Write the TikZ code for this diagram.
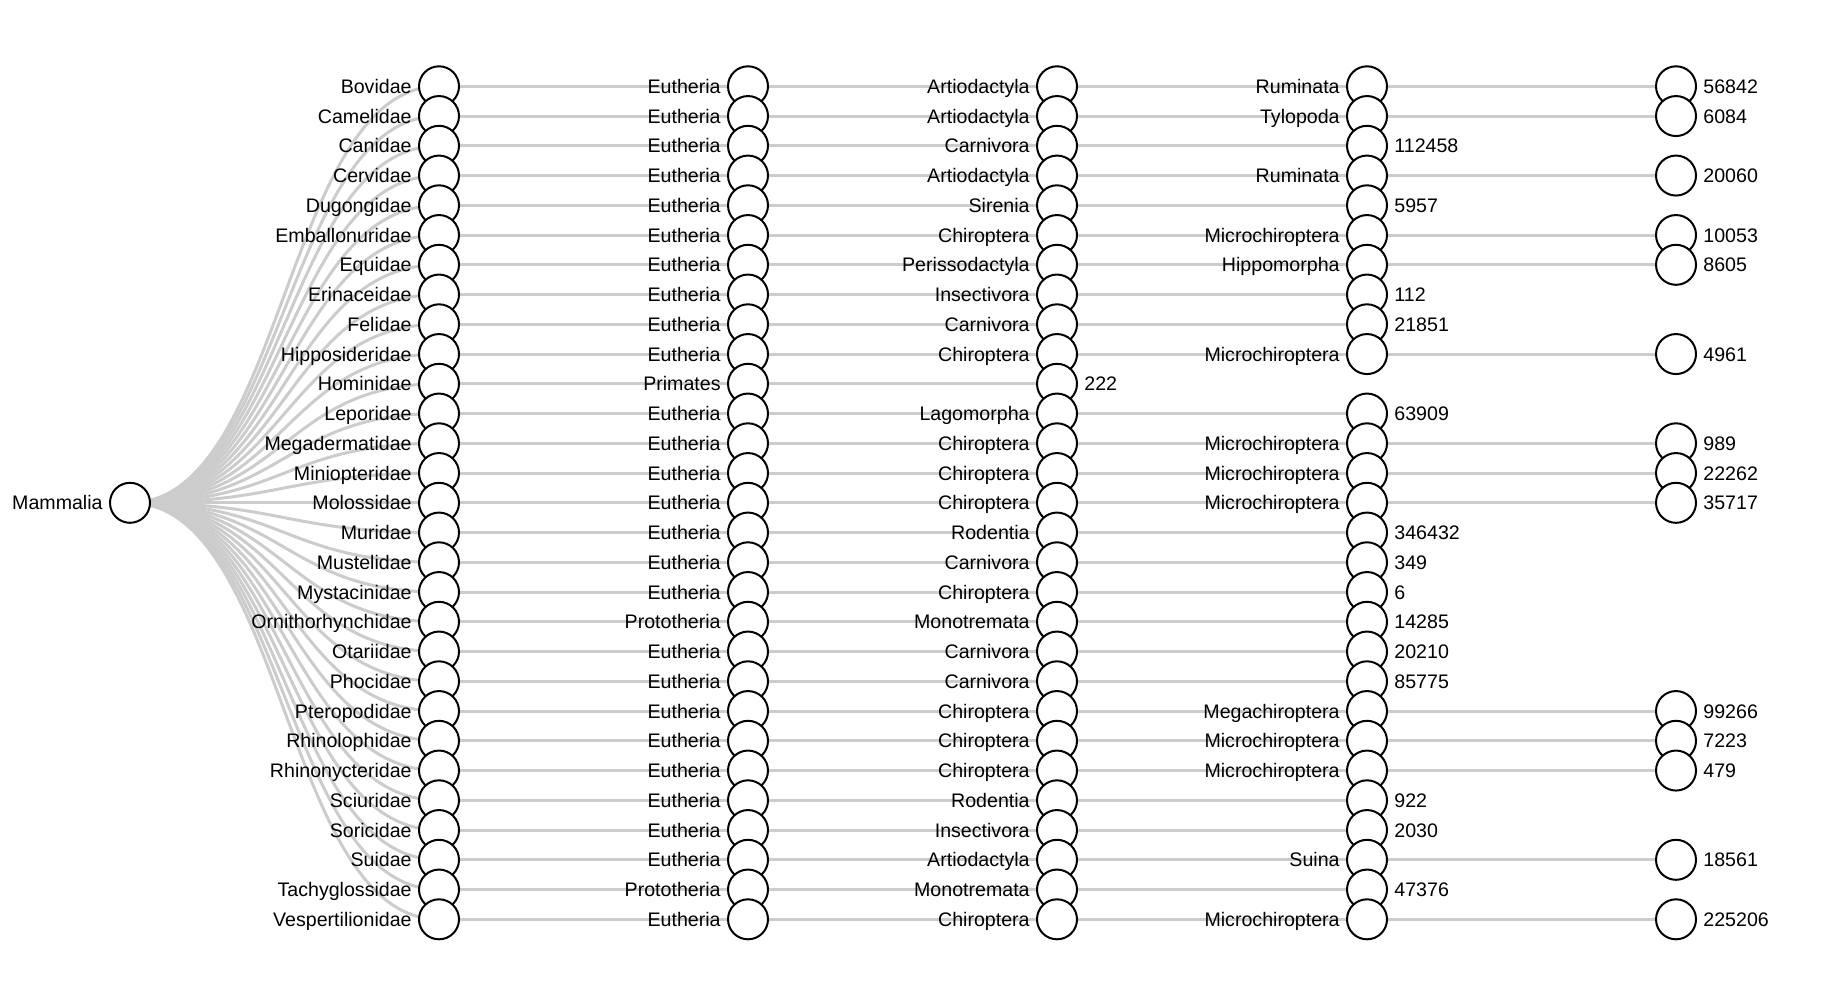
\documentclass[tikz,border=0pt]{standalone}
\usepackage{fontspec}
\setmainfont{Liberation Sans}
\usetikzlibrary{backgrounds}

\tikzset{
  dot/.style={circle,draw=black,fill=white,line width=1pt,minimum size=20pt,inner sep=0pt},
  link/.style={draw=gray!40,line width=1.5pt},
  every label/.style={text height=7pt,text depth=0pt,inner sep=3pt},
}

\begin{document}
\begin{tikzpicture}[x=0.5pt,y=-14.875pt]
\fontsize{9.8}{11}\selectfont
\useasboundingbox (0,-2.901) rectangle (1824,30.713);

\node[dot,label=left:Mammalia] (root) at (130,14) {};

% families
\node[dot,label=left:Bovidae] (f0) at (439,0) {};
\node[dot,label=left:Camelidae] (f1) at (439,1) {};
\node[dot,label=left:Canidae] (f2) at (439,2) {};
\node[dot,label=left:Cervidae] (f3) at (439,3) {};
\node[dot,label=left:Dugongidae] (f4) at (439,4) {};
\node[dot,label=left:Emballonuridae] (f5) at (439,5) {};
\node[dot,label=left:Equidae] (f6) at (439,6) {};
\node[dot,label=left:Erinaceidae] (f7) at (439,7) {};
\node[dot,label=left:Felidae] (f8) at (439,8) {};
\node[dot,label=left:Hipposideridae] (f9) at (439,9) {};
\node[dot,label=left:Hominidae] (f10) at (439,10) {};
\node[dot,label=left:Leporidae] (f11) at (439,11) {};
\node[dot,label=left:Megadermatidae] (f12) at (439,12) {};
\node[dot,label=left:Miniopteridae] (f13) at (439,13) {};
\node[dot,label=left:Molossidae] (f14) at (439,14) {};
\node[dot,label=left:Muridae] (f15) at (439,15) {};
\node[dot,label=left:Mustelidae] (f16) at (439,16) {};
\node[dot,label=left:Mystacinidae] (f17) at (439,17) {};
\node[dot,label=left:Ornithorhynchidae] (f18) at (439,18) {};
\node[dot,label=left:Otariidae] (f19) at (439,19) {};
\node[dot,label=left:Phocidae] (f20) at (439,20) {};
\node[dot,label=left:Pteropodidae] (f21) at (439,21) {};
\node[dot,label=left:Rhinolophidae] (f22) at (439,22) {};
\node[dot,label=left:Rhinonycteridae] (f23) at (439,23) {};
\node[dot,label=left:Sciuridae] (f24) at (439,24) {};
\node[dot,label=left:Soricidae] (f25) at (439,25) {};
\node[dot,label=left:Suidae] (f26) at (439,26) {};
\node[dot,label=left:Tachyglossidae] (f27) at (439,27) {};
\node[dot,label=left:Vespertilionidae] (f28) at (439,28) {};

% subclasses
\node[dot,label=left:Eutheria] (s0) at (748,0) {};
\node[dot,label=left:Eutheria] (s1) at (748,1) {};
\node[dot,label=left:Eutheria] (s2) at (748,2) {};
\node[dot,label=left:Eutheria] (s3) at (748,3) {};
\node[dot,label=left:Eutheria] (s4) at (748,4) {};
\node[dot,label=left:Eutheria] (s5) at (748,5) {};
\node[dot,label=left:Eutheria] (s6) at (748,6) {};
\node[dot,label=left:Eutheria] (s7) at (748,7) {};
\node[dot,label=left:Eutheria] (s8) at (748,8) {};
\node[dot,label=left:Eutheria] (s9) at (748,9) {};
\node[dot,label=left:Primates] (s10) at (748,10) {};
\node[dot,label=left:Eutheria] (s11) at (748,11) {};
\node[dot,label=left:Eutheria] (s12) at (748,12) {};
\node[dot,label=left:Eutheria] (s13) at (748,13) {};
\node[dot,label=left:Eutheria] (s14) at (748,14) {};
\node[dot,label=left:Eutheria] (s15) at (748,15) {};
\node[dot,label=left:Eutheria] (s16) at (748,16) {};
\node[dot,label=left:Eutheria] (s17) at (748,17) {};
\node[dot,label=left:Prototheria] (s18) at (748,18) {};
\node[dot,label=left:Eutheria] (s19) at (748,19) {};
\node[dot,label=left:Eutheria] (s20) at (748,20) {};
\node[dot,label=left:Eutheria] (s21) at (748,21) {};
\node[dot,label=left:Eutheria] (s22) at (748,22) {};
\node[dot,label=left:Eutheria] (s23) at (748,23) {};
\node[dot,label=left:Eutheria] (s24) at (748,24) {};
\node[dot,label=left:Eutheria] (s25) at (748,25) {};
\node[dot,label=left:Eutheria] (s26) at (748,26) {};
\node[dot,label=left:Prototheria] (s27) at (748,27) {};
\node[dot,label=left:Eutheria] (s28) at (748,28) {};

% orders
\node[dot,label=left:Artiodactyla] (o0) at (1057,0) {};
\node[dot,label=left:Artiodactyla] (o1) at (1057,1) {};
\node[dot,label=left:Carnivora] (o2) at (1057,2) {};
\node[dot,label=left:Artiodactyla] (o3) at (1057,3) {};
\node[dot,label=left:Sirenia] (o4) at (1057,4) {};
\node[dot,label=left:Chiroptera] (o5) at (1057,5) {};
\node[dot,label=left:Perissodactyla] (o6) at (1057,6) {};
\node[dot,label=left:Insectivora] (o7) at (1057,7) {};
\node[dot,label=left:Carnivora] (o8) at (1057,8) {};
\node[dot,label=left:Chiroptera] (o9) at (1057,9) {};
\node[dot,label=right:222] (o10) at (1057,10) {};
\node[dot,label=left:Lagomorpha] (o11) at (1057,11) {};
\node[dot,label=left:Chiroptera] (o12) at (1057,12) {};
\node[dot,label=left:Chiroptera] (o13) at (1057,13) {};
\node[dot,label=left:Chiroptera] (o14) at (1057,14) {};
\node[dot,label=left:Rodentia] (o15) at (1057,15) {};
\node[dot,label=left:Carnivora] (o16) at (1057,16) {};
\node[dot,label=left:Chiroptera] (o17) at (1057,17) {};
\node[dot,label=left:Monotremata] (o18) at (1057,18) {};
\node[dot,label=left:Carnivora] (o19) at (1057,19) {};
\node[dot,label=left:Carnivora] (o20) at (1057,20) {};
\node[dot,label=left:Chiroptera] (o21) at (1057,21) {};
\node[dot,label=left:Chiroptera] (o22) at (1057,22) {};
\node[dot,label=left:Chiroptera] (o23) at (1057,23) {};
\node[dot,label=left:Rodentia] (o24) at (1057,24) {};
\node[dot,label=left:Insectivora] (o25) at (1057,25) {};
\node[dot,label=left:Artiodactyla] (o26) at (1057,26) {};
\node[dot,label=left:Monotremata] (o27) at (1057,27) {};
\node[dot,label=left:Chiroptera] (o28) at (1057,28) {};

% suborders
\node[dot,label=left:Ruminata] (u0) at (1367,0) {};
\node[dot,label=left:Tylopoda] (u1) at (1367,1) {};
\node[dot,label=right:112458] (u2) at (1367,2) {};
\node[dot,label=left:Ruminata] (u3) at (1367,3) {};
\node[dot,label=right:5957] (u4) at (1367,4) {};
\node[dot,label=left:Microchiroptera] (u5) at (1367,5) {};
\node[dot,label=left:Hippomorpha] (u6) at (1367,6) {};
\node[dot,label=right:112] (u7) at (1367,7) {};
\node[dot,label=right:21851] (u8) at (1367,8) {};
\node[dot,label=left:Microchiroptera] (u9) at (1367,9) {};
\node[dot,label=right:63909] (u11) at (1367,11) {};
\node[dot,label=left:Microchiroptera] (u12) at (1367,12) {};
\node[dot,label=left:Microchiroptera] (u13) at (1367,13) {};
\node[dot,label=left:Microchiroptera] (u14) at (1367,14) {};
\node[dot,label=right:346432] (u15) at (1367,15) {};
\node[dot,label=right:349] (u16) at (1367,16) {};
\node[dot,label=right:6] (u17) at (1367,17) {};
\node[dot,label=right:14285] (u18) at (1367,18) {};
\node[dot,label=right:20210] (u19) at (1367,19) {};
\node[dot,label=right:85775] (u20) at (1367,20) {};
\node[dot,label=left:Megachiroptera] (u21) at (1367,21) {};
\node[dot,label=left:Microchiroptera] (u22) at (1367,22) {};
\node[dot,label=left:Microchiroptera] (u23) at (1367,23) {};
\node[dot,label=right:922] (u24) at (1367,24) {};
\node[dot,label=right:2030] (u25) at (1367,25) {};
\node[dot,label=left:Suina] (u26) at (1367,26) {};
\node[dot,label=right:47376] (u27) at (1367,27) {};
\node[dot,label=left:Microchiroptera] (u28) at (1367,28) {};

% counts
\node[dot,label=right:56842] (n0) at (1676,0) {};
\node[dot,label=right:6084] (n1) at (1676,1) {};
\node[dot,label=right:20060] (n3) at (1676,3) {};
\node[dot,label=right:10053] (n5) at (1676,5) {};
\node[dot,label=right:8605] (n6) at (1676,6) {};
\node[dot,label=right:4961] (n9) at (1676,9) {};
\node[dot,label=right:989] (n12) at (1676,12) {};
\node[dot,label=right:22262] (n13) at (1676,13) {};
\node[dot,label=right:35717] (n14) at (1676,14) {};
\node[dot,label=right:99266] (n21) at (1676,21) {};
\node[dot,label=right:7223] (n22) at (1676,22) {};
\node[dot,label=right:479] (n23) at (1676,23) {};
\node[dot,label=right:18561] (n26) at (1676,26) {};
\node[dot,label=right:225206] (n28) at (1676,28) {};

\begin{pgfonlayer}{background}
% links from the root
\draw[link] (root.center) .. controls (284.5,14) and (284.5,0) .. (f0.center);
\draw[link] (root.center) .. controls (284.5,14) and (284.5,1) .. (f1.center);
\draw[link] (root.center) .. controls (284.5,14) and (284.5,2) .. (f2.center);
\draw[link] (root.center) .. controls (284.5,14) and (284.5,3) .. (f3.center);
\draw[link] (root.center) .. controls (284.5,14) and (284.5,4) .. (f4.center);
\draw[link] (root.center) .. controls (284.5,14) and (284.5,5) .. (f5.center);
\draw[link] (root.center) .. controls (284.5,14) and (284.5,6) .. (f6.center);
\draw[link] (root.center) .. controls (284.5,14) and (284.5,7) .. (f7.center);
\draw[link] (root.center) .. controls (284.5,14) and (284.5,8) .. (f8.center);
\draw[link] (root.center) .. controls (284.5,14) and (284.5,9) .. (f9.center);
\draw[link] (root.center) .. controls (284.5,14) and (284.5,10) .. (f10.center);
\draw[link] (root.center) .. controls (284.5,14) and (284.5,11) .. (f11.center);
\draw[link] (root.center) .. controls (284.5,14) and (284.5,12) .. (f12.center);
\draw[link] (root.center) .. controls (284.5,14) and (284.5,13) .. (f13.center);
\draw[link] (root.center) .. controls (284.5,14) and (284.5,14) .. (f14.center);
\draw[link] (root.center) .. controls (284.5,14) and (284.5,15) .. (f15.center);
\draw[link] (root.center) .. controls (284.5,14) and (284.5,16) .. (f16.center);
\draw[link] (root.center) .. controls (284.5,14) and (284.5,17) .. (f17.center);
\draw[link] (root.center) .. controls (284.5,14) and (284.5,18) .. (f18.center);
\draw[link] (root.center) .. controls (284.5,14) and (284.5,19) .. (f19.center);
\draw[link] (root.center) .. controls (284.5,14) and (284.5,20) .. (f20.center);
\draw[link] (root.center) .. controls (284.5,14) and (284.5,21) .. (f21.center);
\draw[link] (root.center) .. controls (284.5,14) and (284.5,22) .. (f22.center);
\draw[link] (root.center) .. controls (284.5,14) and (284.5,23) .. (f23.center);
\draw[link] (root.center) .. controls (284.5,14) and (284.5,24) .. (f24.center);
\draw[link] (root.center) .. controls (284.5,14) and (284.5,25) .. (f25.center);
\draw[link] (root.center) .. controls (284.5,14) and (284.5,26) .. (f26.center);
\draw[link] (root.center) .. controls (284.5,14) and (284.5,27) .. (f27.center);
\draw[link] (root.center) .. controls (284.5,14) and (284.5,28) .. (f28.center);

% links along the rows
\draw[link] (f0.center) -- (s0.center) -- (o0.center) -- (u0.center) -- (n0.center);
\draw[link] (f1.center) -- (s1.center) -- (o1.center) -- (u1.center) -- (n1.center);
\draw[link] (f2.center) -- (s2.center) -- (o2.center) -- (u2.center);
\draw[link] (f3.center) -- (s3.center) -- (o3.center) -- (u3.center) -- (n3.center);
\draw[link] (f4.center) -- (s4.center) -- (o4.center) -- (u4.center);
\draw[link] (f5.center) -- (s5.center) -- (o5.center) -- (u5.center) -- (n5.center);
\draw[link] (f6.center) -- (s6.center) -- (o6.center) -- (u6.center) -- (n6.center);
\draw[link] (f7.center) -- (s7.center) -- (o7.center) -- (u7.center);
\draw[link] (f8.center) -- (s8.center) -- (o8.center) -- (u8.center);
\draw[link] (f9.center) -- (s9.center) -- (o9.center) -- (u9.center) -- (n9.center);
\draw[link] (f10.center) -- (s10.center) -- (o10.center);
\draw[link] (f11.center) -- (s11.center) -- (o11.center) -- (u11.center);
\draw[link] (f12.center) -- (s12.center) -- (o12.center) -- (u12.center) -- (n12.center);
\draw[link] (f13.center) -- (s13.center) -- (o13.center) -- (u13.center) -- (n13.center);
\draw[link] (f14.center) -- (s14.center) -- (o14.center) -- (u14.center) -- (n14.center);
\draw[link] (f15.center) -- (s15.center) -- (o15.center) -- (u15.center);
\draw[link] (f16.center) -- (s16.center) -- (o16.center) -- (u16.center);
\draw[link] (f17.center) -- (s17.center) -- (o17.center) -- (u17.center);
\draw[link] (f18.center) -- (s18.center) -- (o18.center) -- (u18.center);
\draw[link] (f19.center) -- (s19.center) -- (o19.center) -- (u19.center);
\draw[link] (f20.center) -- (s20.center) -- (o20.center) -- (u20.center);
\draw[link] (f21.center) -- (s21.center) -- (o21.center) -- (u21.center) -- (n21.center);
\draw[link] (f22.center) -- (s22.center) -- (o22.center) -- (u22.center) -- (n22.center);
\draw[link] (f23.center) -- (s23.center) -- (o23.center) -- (u23.center) -- (n23.center);
\draw[link] (f24.center) -- (s24.center) -- (o24.center) -- (u24.center);
\draw[link] (f25.center) -- (s25.center) -- (o25.center) -- (u25.center);
\draw[link] (f26.center) -- (s26.center) -- (o26.center) -- (u26.center) -- (n26.center);
\draw[link] (f27.center) -- (s27.center) -- (o27.center) -- (u27.center);
\draw[link] (f28.center) -- (s28.center) -- (o28.center) -- (u28.center) -- (n28.center);
\end{pgfonlayer}
\end{tikzpicture}
\end{document}
